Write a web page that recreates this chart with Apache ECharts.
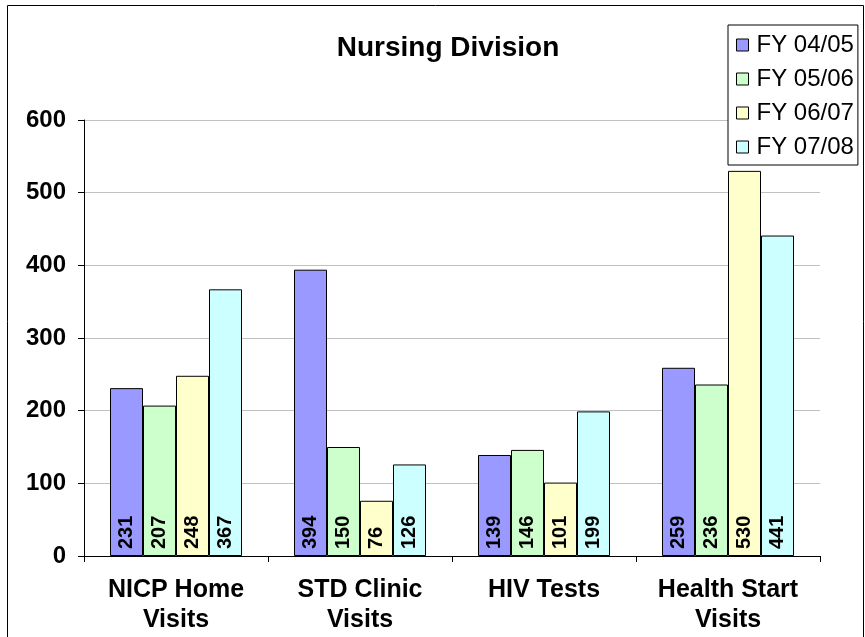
<!DOCTYPE html>
<html>
<head>
<meta charset="utf-8">
<script src="https://cdn.jsdelivr.net/npm/echarts@6/dist/echarts.min.js"></script>
<style>
  html, body { margin: 0; padding: 0; background: #fff; }
  #chart { width: 865px; height: 637px; }
</style>
</head>
<body>
<div id="chart"></div>
<script>
// 数据
const categories = ['NICP Home\nVisits', 'STD Clinic\nVisits', 'HIV Tests', 'Health Start\nVisits']
const seriesNames = ['FY 04/05', 'FY 05/06', 'FY 06/07', 'FY 07/08']
const fy0405 = [231, 394, 139, 259]
const fy0506 = [207, 150, 146, 236]
const fy0607 = [248, 76, 101, 530]
const fy0708 = [367, 126, 199, 441]
const yTicks = [0, 100, 200, 300, 400, 500, 600]

const colors = ['#9999ff', '#ccffcc', '#ffffcc', '#ccffff']
const font = 'Liberation Sans, Arial, sans-serif'

const chart = echarts.init(document.getElementById('chart'))

function makeSeries(name, data, i) {
    return {
        name: name,
        type: 'bar',
        data: data,
        barWidth: 33,
        barGap: '0%',
        itemStyle: { color: colors[i], borderColor: '#000', borderWidth: 1 },
        label: {
            show: true,
            position: 'insideBottom',
            rotate: 90,
            align: 'left',
            verticalAlign: 'middle',
            distance: 7,
            color: '#000',
            fontWeight: 'bold',
            fontSize: 20,
            fontFamily: font
        }
    }
}

const opt = {
    animation: false,
    title: {
        text: 'Nursing Division',
        left: 443,
        top: 29,
        textAlign: 'center',
        textStyle: { fontFamily: font, fontWeight: 'bold', fontSize: 28, color: '#000' }
    },
    legend: {
        orient: 'vertical',
        left: 728,
        top: 25,
        padding: [8, 4, 6, 8],
        itemGap: 10,
        itemWidth: 12,
        itemHeight: 12,
        borderColor: '#000',
        borderWidth: 1,
        backgroundColor: '#fff',
        icon: 'rect',
        itemStyle: { borderColor: '#000', borderWidth: 1 },
        textStyle: { fontFamily: font, fontSize: 24, color: '#000', padding: [0, 0, 0, 3] },
        data: seriesNames
    },
    graphic: [{
        type: 'rect',
        left: 5,
        top: 3,
        shape: { width: 856, height: 640 },
        style: { fill: 'none', stroke: '#000', lineWidth: 1 },
        z: -1
    }],
    grid: { left: 84, right: 45, top: 120, bottom: 81 },
    xAxis: {
        type: 'category',
        data: categories,
        axisLine: { lineStyle: { color: '#000', width: 1 } },
        axisTick: { show: true, alignWithLabel: false, length: 6, lineStyle: { color: '#000' } },
        axisLabel: {
            interval: 0,
            margin: 19,
            lineHeight: 30,
            fontFamily: font, fontWeight: 'bold', fontSize: 25, color: '#000'
        }
    },
    yAxis: {
        type: 'value',
        min: yTicks[0],
        max: yTicks[yTicks.length - 1],
        interval: 100,
        axisLine: { show: true, lineStyle: { color: '#000', width: 1 } },
        axisTick: { show: true, length: 6, lineStyle: { color: '#000' } },
        splitLine: { lineStyle: { color: '#c0c0c0', width: 1 } },
        axisLabel: {
            margin: 18,
            fontFamily: font, fontWeight: 'bold', fontSize: 24, color: '#000'
        }
    },
    series: [
        makeSeries(seriesNames[0], fy0405, 0),
        makeSeries(seriesNames[1], fy0506, 1),
        makeSeries(seriesNames[2], fy0607, 2),
        makeSeries(seriesNames[3], fy0708, 3)
    ]
}
chart.setOption(opt)
</script>
</body>
</html>
